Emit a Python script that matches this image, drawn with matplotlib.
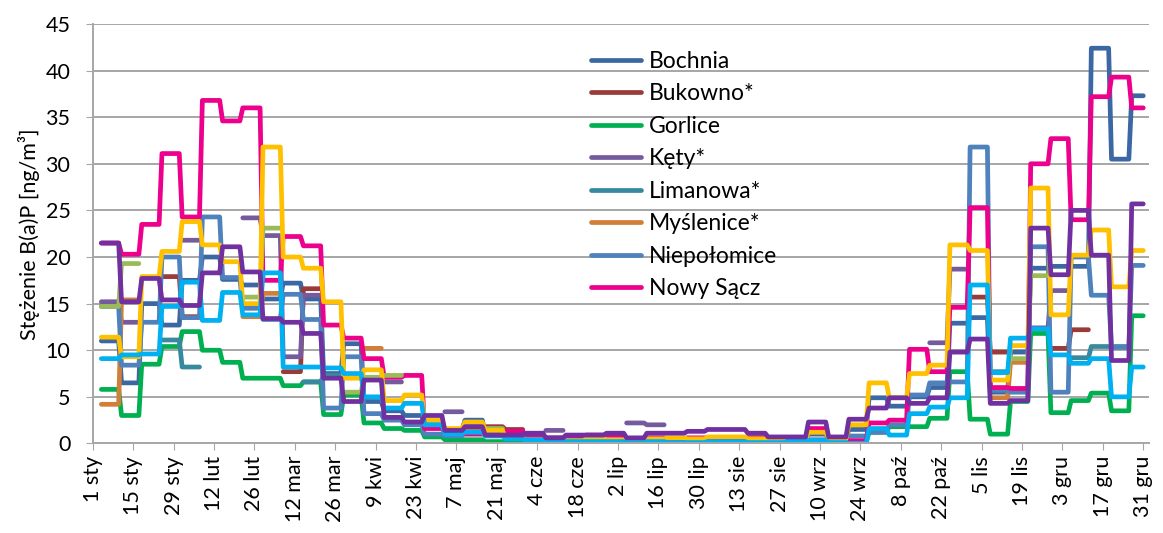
import numpy as np
import matplotlib.pyplot as plt

plt.rcParams['font.family'] = ['Lato', 'DejaVu Sans']

# weekly B(a)P concentrations [ng/m3], first week starts on 4 Jan; None = no measurement
bochnia = [11.0, 6.5, 15.0, 12.7, 17.5, 20.0, 17.6, 17.0, 15.5, 17.2, 15.5, 7.5,
           10.7, 4.5, 3.5, 3.0, 2.0, 1.5, 2.5, 1.0, 0.8, 0.6, 0.4, 0.5,
           0.5, 0.4, 0.5, 0.4, 0.5, 0.5, 0.5, 0.4, 0.4, 0.5, 0.5, 1.0,
           0.5, 1.5, 4.9, 4.0, 5.0, 6.0, 12.9, 13.5, 5.5, 9.8, 18.8, 19.0,
           19.0, 42.4, 30.5, 37.3]
bukowno = [None, None, None, 17.9, 13.6, None, None, None, None, 7.7, 16.6, None,
           None, None, None, None, None, None, None, 1.8, 1.5, None, None, 0.6,
           None, None, 0.4, None, None, 0.5, None, None, 0.6, None, None, None,
           None, None, None, None, None, None, None, 15.7, 9.8, None, None, 10.2,
           12.2, None, None, None]
gorlice = [5.8, 3.0, 8.5, 10.4, 12.0, 10.0, 8.7, 7.0, 7.0, 6.2, 6.6, 3.1,
           5.2, 2.2, 1.6, 1.4, 0.7, 0.4, 0.4, 0.2, 0.2, 0.1, 0.1, 0.1,
           0.1, 0.1, 0.1, 0.1, 0.1, 0.1, 0.1, 0.1, 0.1, 0.1, 0.1, 0.2,
           0.1, 0.1, 1.2, 1.8, 1.8, 2.7, 7.7, 2.6, 1.0, 4.5, 11.8, 3.3,
           4.6, 5.4, 3.5, 13.7]
kety = [15.2, 13.0, None, None, 21.8, None, None, 24.2, 22.3, 9.3, 15.9, None,
        None, None, 6.6, None, None, 3.4, None, None, None, None, 1.4, None,
        None, None, 2.2, 2.0, None, None, None, None, None, None, None, None,
        None, None, None, None, None, 10.8, 18.7, None, None, None, 12.4, 16.4,
        None, None, None, None]
limanowa = [None, None, None, 11.1, 8.2, None, None, None, None, None, 6.6, 7.3,
            None, None, None, None, None, None, 1.2, None, None, None, None, None,
            0.3, None, None, None, None, None, None, 0.2, None, None, None, None,
            None, None, None, None, None, None, None, None, 7.7, None, None, None,
            9.2, 10.4, 10.4, None]
myslenice = [4.2, 15.4, None, None, None, None, None, 13.6, 16.1, None, None, None,
             None, 10.2, None, None, None, None, 1.5, None, None, None, 0.5, None,
             None, None, None, None, 0.4, None, None, None, None, None, 0.5, None,
             None, None, None, None, None, None, None, None, 4.9, 8.7, None, None,
             None, None, None, None]
niepolomice = [14.7, 8.4, 13.0, 20.0, 13.5, 24.3, 17.8, 14.5, 13.3, 16.0, 13.3, 3.8,
               9.3, 3.2, 2.5, 2.0, 1.0, 0.8, 1.8, 1.0, 0.6, 0.3, 0.3, 0.3,
               0.2, 0.2, 0.3, 0.2, 0.2, 0.2, 0.3, 0.3, 0.3, 0.2, 0.3, 0.4,
               0.5, 0.8, 1.2, 2.0, 5.2, 6.5, 6.6, 31.8, 5.7, 5.5, 21.1, 5.5,
               20.0, 15.9, 10.3, 19.1]
nowy_sacz = [21.5, 20.3, 23.5, 31.1, 24.3, 36.8, 34.6, 36.0, 17.5, 22.2, 21.2, 12.7,
             11.3, 9.1, 7.1, 7.3, 1.6, 1.2, 1.0, 1.5, 1.3, 0.9, 0.6, 0.8,
             0.9, 0.7, 0.4, 0.6, 0.5, 0.6, 0.6, 0.5, 0.6, 0.5, 0.6, 1.6,
             0.3, 0.3, 2.2, 2.5, 10.1, 7.7, 14.6, 25.3, 6.0, 5.9, 30.0, 32.7,
             24.0, 37.2, 39.3, 36.0]
nowy_targ = [14.7, 19.3, None, None, None, None, None, 15.7, 23.1, None, None, None,
             5.5, 7.1, 7.3, None, None, None, None, 1.6, None, None, None, None,
             None, None, None, None, None, None, None, None, None, None, None, None,
             None, None, None, None, None, None, None, None, None, 9.1, 18.0, None,
             None, None, None, None]
tarnow = [11.4, 9.3, 17.9, 20.6, 23.8, 21.3, 19.5, 15.0, 31.8, 20.0, 18.8, 15.2,
          7.0, 7.9, 4.6, 5.2, 2.5, 1.6, 2.3, 1.4, 0.6, 0.4, 0.3, 0.3,
          0.5, 0.4, 0.5, 0.5, 0.6, 0.5, 0.7, 0.7, 0.5, 0.4, 0.4, 1.2,
          0.5, 2.0, 6.5, 4.9, 7.5, 8.4, 21.3, 20.7, 6.8, 10.5, 27.4, 13.8,
          20.2, 22.9, 16.8, 20.7]
trzebinia = [9.1, 9.5, 9.6, 14.7, 17.3, 13.2, 16.2, 13.8, 18.3, 8.2, 8.2, 8.1,
             7.5, 5.0, 3.8, 4.3, 2.0, 1.0, 1.2, 0.8, 0.5, 0.4, 0.3, 0.2,
             0.2, 0.2, 0.1, 0.2, 0.1, 0.1, 0.2, 0.2, 0.1, 0.1, 0.3, 0.3,
             0.1, 0.0, 1.6, 0.9, 3.2, 3.9, 4.9, 17.0, 7.6, 11.3, 12.3, 9.5,
             8.6, 9.1, 5.0, 8.2]
zakopane = [21.5, 15.2, 17.7, 15.4, 14.8, 18.3, 21.1, 18.4, 13.4, 13.0, 11.8, 7.0,
            4.5, 6.8, 2.8, 2.3, 3.0, 1.4, 1.8, 0.9, 0.9, 1.1, 0.6, 0.9,
            0.9, 1.1, 0.6, 1.1, 1.1, 1.3, 1.5, 1.5, 1.1, 0.7, 0.7, 2.3,
            0.7, 2.6, 3.8, 4.9, 4.3, 4.9, 9.8, 11.2, 4.3, 4.6, 23.1, 18.1,
            25.0, 20.2, 8.9, 25.7]

stations = ["Bochnia", "Bukowno*", "Gorlice", "Kęty*", "Limanowa*", "Myślenice*",
            "Niepołomice", "Nowy Sącz", "Nowy Targ*", "Tarnów", "Trzebinia", "Zakopane"]
series = [bochnia, bukowno, gorlice, kety, limanowa, myslenice,
          niepolomice, nowy_sacz, nowy_targ, tarnow, trzebinia, zakopane]
colors = ["#3B68A2", "#9A3B38", "#00B050", "#765A9E", "#37899E", "#D07E38",
          "#4F81BD", "#EC008C", "#9BBB59", "#FFC000", "#00B0F0", "#7030A0"]

tick_labels = ["1 sty", "15 sty", "29 sty", "12 lut", "26 lut", "12 mar", "26 mar",
               "9 kwi", "23 kwi", "7 maj", "21 maj", "4 cze", "18 cze", "2 lip",
               "16 lip", "30 lip", "13 sie", "27 sie", "10 wrz", "24 wrz", "8 paź",
               "22 paź", "5 lis", "19 lis", "3 gru", "17 gru", "31 gru"]

# every weekly value is held for the 7 days of its week
days = np.arange(3, 365)
week_idx = (days - 3) // 7


def daily(weekly):
    w = np.array([np.nan if v is None else v for v in weekly], dtype=float)
    return w[week_idx]


fig = plt.figure(figsize=(11.63, 5.33), dpi=100)
ax = fig.add_axes([0.0797, 0.168, 0.9083, 0.787])

handles = []
for name, vals, col in zip(stations, series, colors):
    ln, = ax.plot(days, daily(vals), color=col, lw=3.4, label=name,
                  solid_capstyle="round", solid_joinstyle="round")
    handles.append(ln)

ax.set_xlim(0, 366)
ax.set_ylim(0, 45)
ax.set_xticks(np.arange(0, 365, 14))
ax.set_xticklabels(tick_labels, rotation=90, fontsize=15.5)
ax.set_yticks(np.arange(0, 46, 5))
ax.tick_params(axis="y", labelsize=15.5, length=5, color="#A6A6A6", pad=11)
ax.tick_params(axis="x", length=5, color="#A6A6A6", pad=4)
ax.yaxis.grid(True, color="#A6A6A6", lw=1.4)
ax.set_axisbelow(True)
for side in ["top", "right"]:
    ax.spines[side].set_visible(False)
for side in ["left", "bottom"]:
    ax.spines[side].set_color("#A6A6A6")
    ax.spines[side].set_linewidth(1.4)

ax.set_ylabel("Stężenie B(a)P [ng/m³]", fontsize=15.5, labelpad=4)

# only the first eight stations fit in the legend box
ax.legend(handles[:8], stations[:8], loc="upper left", bbox_to_anchor=(0.498, 0.926),
          bbox_transform=fig.transFigure, frameon=False, fontsize=16.5,
          handlelength=2.2, handletextpad=0.33, labelspacing=0.5, borderpad=0)

fig.savefig("out.png", dpi=100)
